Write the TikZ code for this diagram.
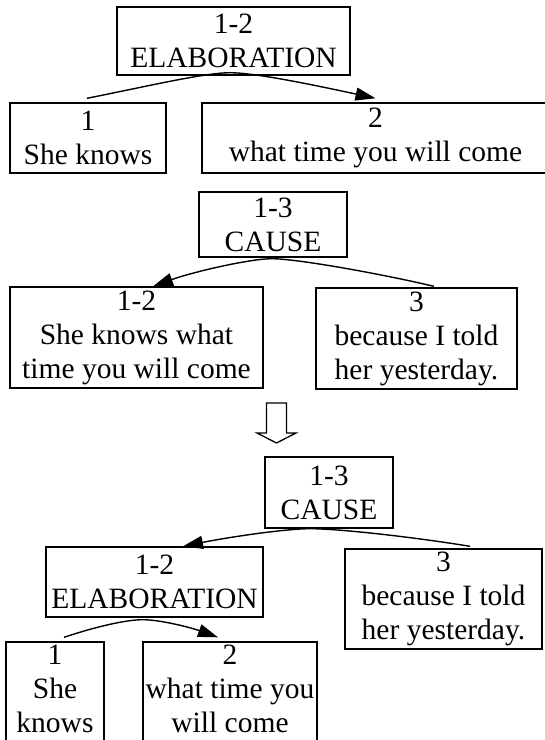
\documentclass[tikz,border=0pt]{standalone}
\usepackage{fontspec}
\setmainfont{Liberation Serif}
\usetikzlibrary{calc,arrows.meta}
\begin{document}
\begin{tikzpicture}[x=1pt,y=-1pt,
  txt/.style={inner sep=0pt, align=center, font=\fontsize{29.5}{34}\selectfont},
  bx/.style={txt, draw, line width=1.4pt},
  arc/.style={line width=1.4pt, -{Triangle[length=20pt,width=13pt]}}]
\useasboundingbox (0,0) rectangle (545,740);
\clip (0,0) rectangle (545,740);
% ---------- top tree ----------
\node[bx, minimum width=233pt, minimum height=68pt] (n12) at (233.5,41) {1-2\\ELABORATION};
\node[bx, minimum width=156pt, minimum height=70pt] (n1) at (88,138) {1\\She knows};
\node[bx, minimum width=368pt, minimum height=70pt] (n2) at (386,138) {};
\node[txt] (n2t) at (375.5,138) {2\\what time you will come};
\draw[arc] ($(n1.north)+(-1,-4)$) .. controls +(60,-12) and +(-25,0) .. ($(n12.south)+(-3.5,-3)$)
   .. controls +(25,0) and +(-60,-13) .. ($(n2t |- n2.north)+(0,-4)$);
% ---------- middle tree ----------
\node[bx, minimum width=148pt, minimum height=65pt] (m13) at (273,224.5) {1-3\\CAUSE};
\node[bx, minimum width=253pt, minimum height=101pt] (m12) at (136.5,337.5) {1-2\\She knows what\\time you will come};
\node[bx, minimum width=201pt, minimum height=101pt] (m3) at (416.5,338.5) {3\\because I told\\her yesterday.};
\draw[arc] ($(m3.north)+(17.5,-1)$) .. controls +(-60,-14) and +(23,0) .. ($(m13.south)+(-1,1)$)
   .. controls +(-22,0) and +(40,-14.4) .. ($(m12.north)+(16.5,0)$);
% ---------- hollow transition arrow ----------
\draw[line width=1.3pt, line join=miter]
  (266.5,403) -- (286.5,403) -- (286.5,433) -- (296,433) -- (276.5,443)
  -- (257,433) -- (266.5,433) -- cycle;
% ---------- bottom tree ----------
\node[bx, minimum width=128pt, minimum height=71pt] (b13) at (329,492.5) {1-3\\CAUSE};
\node[bx, minimum width=217pt, minimum height=70pt] (b12) at (154.5,582) {1-2\\ELABORATION};
\node[bx, minimum width=197pt, minimum height=100pt] (b3) at (443.5,599) {3\\because I told\\her yesterday.};
\node[bx, minimum width=98pt, minimum height=101pt, text depth=7pt] (b1) at (55,692.5) {1\\She\\knows};
\node[bx, minimum width=174pt, minimum height=101pt, text depth=7pt] (b2) at (230,692.5) {2\\what time you\\will come};
\draw[arc] ($(b3.north)+(26.5,-2)$) .. controls +(-55,-9) and +(30,0) .. ($(b13.south)+(-19,0)$)
   .. controls +(-25,0) and +(45,-9) .. ($(b12.north)+(28.5,0)$);
\draw[arc] ($(b1.north)+(9,-4)$) .. controls +(30,-10) and +(-18,0) .. ($(b12.south)+(-11.5,2)$)
   .. controls +(17,0) and +(-28,-10) .. ($(b2.north)+(-12,-4)$);
\end{tikzpicture}
\end{document}
